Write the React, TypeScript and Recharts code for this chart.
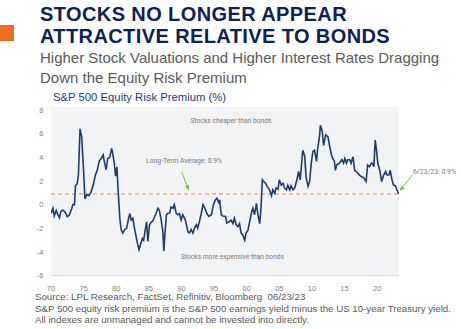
import React from 'react';
import { LineChart, Line, XAxis, YAxis, CartesianGrid, ReferenceLine } from 'recharts';

const years = [
  1970.0, 1970.3, 1970.5, 1970.8, 1971.05, 1971.3, 1971.5, 1971.8, 1972.0, 1972.2, 1972.5, 1972.8,
  1973.05, 1973.2, 1973.35, 1973.6, 1973.75, 1974.0, 1974.2, 1974.45, 1974.7, 1975.0, 1975.2, 1975.5,
  1975.8, 1976.1, 1976.5, 1976.8, 1977.1, 1977.4, 1977.7, 1978.0, 1978.2, 1978.45, 1978.7, 1979.0,
  1979.3, 1979.5, 1979.7, 1979.9, 1980.1, 1980.3, 1980.55, 1980.75, 1981.0, 1981.3, 1981.6, 1981.9,
  1982.1, 1982.3, 1982.55, 1982.8, 1983.05, 1983.3, 1983.5, 1983.7, 1984.0, 1984.2, 1984.4, 1984.65,
  1984.85, 1985.1, 1985.4, 1985.6, 1985.9, 1986.1, 1986.4, 1986.6, 1986.9, 1987.15, 1987.3, 1987.45,
  1987.7, 1987.9, 1988.2, 1988.4, 1988.7, 1988.9, 1989.2, 1989.45, 1989.7, 1989.95, 1990.2, 1990.6,
  1991.0, 1991.2, 1991.5, 1991.75, 1992.0, 1992.3, 1992.5, 1992.8, 1993.0, 1993.3, 1993.5, 1993.9,
  1994.2, 1994.6, 1994.9, 1995.2, 1995.45, 1995.7, 1995.85, 1996.1, 1996.35, 1996.75, 1996.95, 1997.3,
  1997.6, 1997.9, 1998.1, 1998.4, 1998.65, 1998.9, 1999.15, 1999.4, 1999.7, 1999.9, 2000.2, 2000.4,
  2000.7, 2000.95, 2001.2, 2001.5, 2001.7, 2002.0, 2002.2, 2002.4, 2002.6, 2002.9, 2003.15, 2003.5,
  2003.8, 2004.0, 2004.3, 2004.5, 2004.8, 2005.0, 2005.3, 2005.6, 2005.8, 2006.1, 2006.3, 2006.6,
  2006.8, 2007.1, 2007.35, 2007.7, 2007.95, 2008.2, 2008.45, 2008.6, 2008.9, 2009.1, 2009.4, 2009.65,
  2009.9, 2010.15, 2010.4, 2010.7, 2010.9, 2011.15, 2011.3, 2011.55, 2011.8, 2012.1, 2012.45, 2012.7,
  2013.0, 2013.2, 2013.45, 2013.6, 2013.8, 2014.2, 2014.6, 2014.85, 2015.05, 2015.3, 2015.5, 2015.8,
  2016.0, 2016.3, 2016.55, 2016.8, 2017.05, 2017.3, 2017.6, 2017.9, 2018.3, 2018.55, 2018.85, 2019.1,
  2019.3, 2019.5, 2019.7, 2019.9, 2020.1, 2020.4, 2020.7, 2021.0, 2021.3, 2021.5, 2021.8, 2022.0,
  2022.3, 2022.5, 2022.8, 2023.0, 2023.3,
];

const erpValues = [
  -0.75, -0.3, -0.95, -0.5, -0.85, -1.1, -0.6, -0.45, -0.55, -0.65, -1.0, -0.9,
  -0.5, -0.3, 0.0, 0.0, 1.6, 1.75, 2.5, 6.4, 5.75, 2.8, 0.5, 0.85,
  0.75, 1.0, 1.7, 2.5, 2.9, 3.7, 3.9, 4.2, 3.6, 2.95, 3.9, 4.0,
  4.75, 4.2, 3.5, 2.4, 3.2, 1.1, -1.15, -2.1, -2.4, -2.1, -2.0, -1.15,
  -0.75, -1.3, -1.15, -2.0, -2.7, -3.4, -3.8, -3.4, -2.85, -3.0, -2.3, -1.45,
  -3.1, -1.7, -1.45, -1.4, -1.0, -0.75, -0.3, -0.45, -1.3, -2.3, -3.9, -2.55,
  -0.85, -0.75, -0.7, -0.2, -0.3, 0.0, -0.75, -0.85, -0.75, -1.3, -0.85, -1.3,
  -2.3, -2.4, -2.1, -2.4, -2.0, -1.7, -2.0, -1.3, -0.85, 0.0, -0.2, -0.75,
  -1.0, -0.85, 0.0, 0.4, 0.55, 0.2, 0.4, -0.85, -0.95, -1.0, -1.55, -1.45,
  -1.3, -1.6, -1.15, -1.7, -1.85, -1.6, -2.4, -2.55, -3.0, -2.4, -2.15, -1.6,
  -0.75, -0.3, -0.85, 0.1, -0.75, -1.6, -0.2, 2.1, 1.95, 1.8, 1.55, 1.25,
  0.75, 1.25, 0.95, 1.4, 1.3, 2.1, 1.65, 1.8, 1.4, 1.25, 1.65, 1.25,
  1.6, 1.25, 1.4, 2.1, 2.8, 2.1, 3.65, 4.6, 4.1, 2.35, 1.55, 1.95,
  3.5, 4.5, 4.6, 3.65, 4.8, 5.75, 6.7, 6.3, 5.0, 5.9, 5.75, 5.0,
  4.2, 3.9, 3.65, 2.9, 3.35, 3.5, 3.8, 3.5, 3.9, 3.5, 3.8, 3.8,
  3.5, 4.05, 2.9, 2.8, 2.65, 2.5, 2.35, 2.3, 1.95, 3.35, 3.2, 3.5,
  3.5, 3.2, 5.45, 4.6, 3.5, 2.9, 1.95, 2.5, 2.8, 2.5, 2.5, 2.9,
  2.05, 1.65, 1.6, 1.3, 0.9,
];

const xTicks = [1970, 1975, 1980, 1985, 1990, 1995, 2000, 2005, 2010, 2015, 2020];
const xTickLabels = ['70', '75', '80', '85', '90', '95', '00', '05', '10', '15', '20'];
const yTicks = [-6, -4, -2, 0, 2, 4, 6, 8];
const longTermAverage = 0.9;

const titleLines = ['STOCKS NO LONGER APPEAR', 'ATTRACTIVE RELATIVE TO BONDS'];
const subtitleLines = ['Higher Stock Valuations and Higher Interest Rates Dragging', 'Down the Equity Risk Premium'];
const chartTitle = 'S&P 500 Equity Risk Premium (%)';
const footerLines = [
  'Source: LPL Research, FactSet, Refinitiv, Bloomberg  06/23/23',
  'S&P 500 equity risk premium is the S&P 500 earnings yield minus the US 10-year Treasury yield.',
  'All indexes are unmanaged and cannot be invested into directly.',
];

const data = years.map((y, i) => ({ year: y, erp: erpValues[i] }));

const FONT = '"Liberation Sans", Arial, sans-serif';
const titleTops = [4.9, 27.3];
const footerTops = [293.0, 304.5, 316.0];

export default function App() {
  return (
    <div style={{ position: 'absolute', left: 0, top: 0, width: 461, height: 329, background: '#fff', fontFamily: FONT, overflow: 'hidden' }}>
      <div style={{ position: 'absolute', left: 0, top: 25, width: 14, height: 16, background: '#f26b21' }} />
      {titleLines.map((t, i) => (
        <div key={t} style={{ position: 'absolute', left: 40, top: titleTops[i], fontSize: 20, letterSpacing: '0.4px', lineHeight: '18px', fontWeight: 700, color: '#0d2152', whiteSpace: 'nowrap' }}>
          {t}
        </div>
      ))}
      <div style={{ position: 'absolute', left: 40, top: 47.5, fontSize: 15, lineHeight: '20px', color: '#595959', whiteSpace: 'nowrap' }}>
        {subtitleLines.map((t) => (<div key={t}>{t}</div>))}
      </div>
      <div style={{ position: 'absolute', left: 53, top: 90, fontSize: 11.3, lineHeight: '14px', color: '#1d3c78', whiteSpace: 'nowrap' }}>
        {chartTitle}
      </div>
      <div style={{ position: 'absolute', left: 0, top: 0 }}>
        <LineChart width={461} height={329} data={data} margin={{ top: 107, right: 62, bottom: 33.3, left: 31 }}>
          <CartesianGrid fill="#f2f3f5" horizontal={false} vertical={false} stroke="none" />
          <XAxis
            dataKey="year"
            type="number"
            domain={[1970, 2023.35]}
            ticks={xTicks}
            tickFormatter={(v) => xTickLabels[xTicks.indexOf(v)]}
            height={20}
            tickLine={false}
            tickSize={0}
            tickMargin={9.5}
            axisLine={{ stroke: '#d4d4d4' }}
            tick={{ fontSize: 7.5, fill: '#808080', fontFamily: FONT }}
            allowDataOverflow
          />
          <YAxis
            type="number"
            domain={[-6, 8.25]}
            ticks={yTicks}
            width={20}
            tickLine={false}
            tickSize={0}
            tickMargin={7.5}
            axisLine={false}
            tick={{ fontSize: 7.5, fill: '#808080', fontFamily: FONT }}
            allowDataOverflow
          />
          <ReferenceLine y={longTermAverage} stroke="#f08a55" strokeWidth={1.2} strokeDasharray="4 3" />
          <Line type="linear" dataKey="erp" stroke="#1c3d6b" strokeWidth={1.6} dot={false} isAnimationActive={false} />
        </LineChart>
      </div>
      <svg width={461} height={329} style={{ position: 'absolute', left: 0, top: 0, pointerEvents: 'none' }}>
        <defs>
          <marker id="ah" markerWidth="5" markerHeight="5" refX="4" refY="2.5" orient="auto" markerUnits="userSpaceOnUse">
            <path d="M0,0 L5,2.5 L0,5 Z" fill="#7cc142" />
          </marker>
        </defs>
        <g fontFamily="Roboto, sans-serif" fontSize={7.5} fill="#7a7a7a">
          <text x={231} y={122.5} textAnchor="middle" textLength={81} lengthAdjust="spacingAndGlyphs">Stocks cheaper than bonds</text>
          <text x={184} y={162.5} textAnchor="middle" textLength={76} lengthAdjust="spacingAndGlyphs">Long-Term Average: 0.9%</text>
          <text x={232.5} y={259} textAnchor="middle" textLength={103} lengthAdjust="spacingAndGlyphs">Stocks more expensive than bonds</text>
          <text x={413} y={173.5} textLength={43} lengthAdjust="spacingAndGlyphs">6/23/23: 0.9%</text>
        </g>
        <line x1={181.7} y1={171.7} x2={188.3} y2={189.3} stroke="#7cc142" strokeWidth={1} markerEnd="url(#ah)" />
        <line x1={412.7} y1={174.5} x2={400.5} y2={190} stroke="#7cc142" strokeWidth={1} markerEnd="url(#ah)" />
      </svg>
      {footerLines.map((t, i) => (
        <div key={t} style={{ position: 'absolute', left: 35, top: footerTops[i], fontSize: 9.7, lineHeight: '8px', color: '#595959', whiteSpace: 'pre' }}>
          {t}
        </div>
      ))}
    </div>
  );
}
